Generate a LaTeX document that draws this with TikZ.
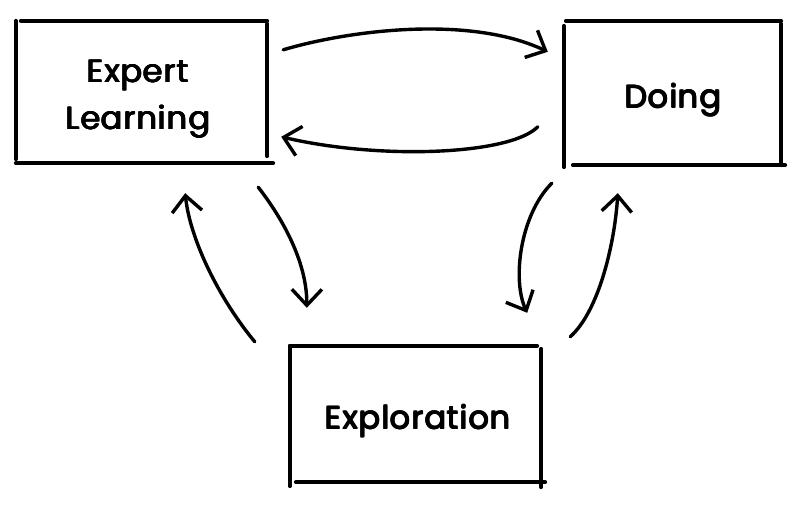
\documentclass[tikz,border=0pt]{standalone}
\usepackage{fontspec}
\setmainfont{Poppins}[LetterSpace=3]
\usetikzlibrary{arrows.meta}
\newcommand\hv[1]{\leavevmode\rlap{#1}\rlap{\kern1.0pt#1}\rlap{\raisebox{0.6pt}{#1}}\rlap{\kern1.0pt\raisebox{0.6pt}{#1}}\rlap{\kern0.5pt\raisebox{0.3pt}{#1}}\phantom{#1}\kern1.0pt}
\begin{document}
\begin{tikzpicture}[x=1pt,y=-1pt,
  box/.style={draw=none,inner sep=0pt,rectangle},
  lbl/.style={inner sep=0pt,align=center,font=\fontsize{32}{47}\selectfont},
  frame/.style={line width=3.8pt,line cap=round},
  arr/.style={line width=3.4pt,line cap=round,-{Straight Barb[length=16pt,width=30pt,line width=3.4pt]}}]
\useasboundingbox[fill=white] (0,0) rectangle (800,511);
% boxes
\node[box,minimum width=251pt,minimum height=142pt] (el) at (141.5,92) {};
\node[box,minimum width=217pt,minimum height=144pt] (do) at (672.5,93) {};
\node[box,minimum width=251pt,minimum height=136pt] (ex) at (415.5,414) {};
% labels
\node[lbl] (elt) at (138,99) {\hv{Expert}\\\hv{Learning}};
\node[lbl] (dot) at (673,100) {\hv{Doing}};
\node[lbl] (ext) at (418,421) {\hv{Exploration}};
% sketchy frames
\draw[frame] ([xshift=5]el.north west) -- (el.north east);
\draw[frame] ([yshift=-3]el.north east) -- ([yshift=7]el.south east);
\draw[frame] (el.south west) -- ([xshift=6]el.south east);
\draw[frame] (el.north west) -- ([yshift=4]el.south west);
\draw[frame] ([xshift=2]do.north west) -- (do.north east);
\draw[frame] ([yshift=-3]do.north east) -- (do.south east);
\draw[frame] ([xshift=9]do.south west) -- ([xshift=4]do.south east);
\draw[frame] ([yshift=-5]do.north west) -- ([yshift=-2]do.south west);
\draw[frame] (ex.north west) -- ([xshift=-4]ex.north east);
\draw[frame] ([yshift=-3]ex.north east) -- ([yshift=-5]ex.south east);
\draw[frame] ([xshift=6]ex.south west) -- ([xshift=4]ex.south east);
\draw[frame] (ex.north west) -- ([yshift=-4]ex.south west);
% arrows
\draw[arr] ([shift={(16,29)}]el.north east) .. controls (350,30) and (470,15) .. ([shift={(-16,31)}]do.north west);
\draw[arr] ([shift={(-26,106)}]do.north west) .. controls (510,155) and (380,160) .. ([shift={(14,116)}]el.north east);
\draw[arr] ([shift={(-9,24)}]el.south east) .. controls (280,215) and (307,260) .. ([shift={(17,-38)}]ex.north west);
\draw[arr] ([shift={(-35,-4)}]ex.north west) .. controls (220,300) and (190,240) .. ([shift={(-82,30)}]el.south east);
\draw[arr] ([shift={(-12,18)}]do.south west) .. controls (520,215) and (512,280) .. ([shift={(-14,-33)}]ex.north east);
\draw[arr] ([shift={(29,-9)}]ex.north east) .. controls (600,310) and (615,240) .. ([shift={(54,28)}]do.south west);
\end{tikzpicture}
\end{document}
